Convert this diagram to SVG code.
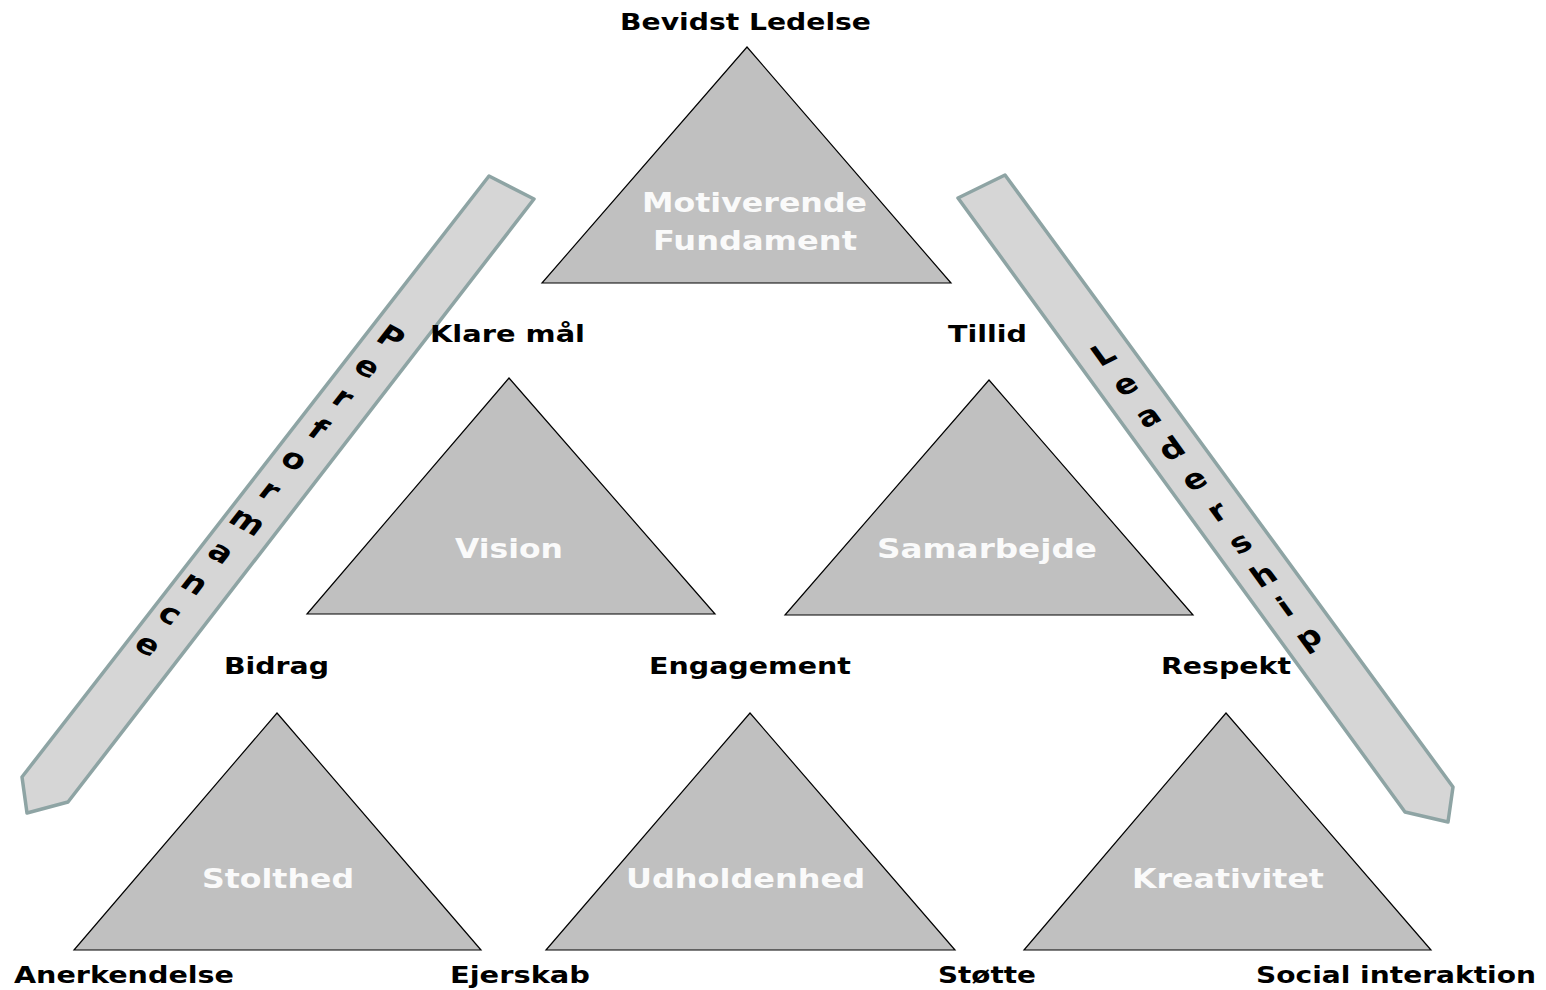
<svg xmlns="http://www.w3.org/2000/svg" width="1546" height="990" viewBox="0 0 1546 990">
<style>
.tri{fill:#c0c0c0;stroke:#000;stroke-width:1.2;stroke-linejoin:miter}
.arrow{fill:#d6d6d6;stroke:#8ea4a4;stroke-width:3.5;stroke-linejoin:round}
.lbl{font-family:"DejaVu Sans","Liberation Sans",sans-serif;font-weight:bold;font-size:23px;fill:#000}
.in{font-family:"DejaVu Sans","Liberation Sans",sans-serif;font-weight:bold;font-size:27px;fill:#fafafa}
.ch{font-family:"DejaVu Sans","Liberation Sans",sans-serif;font-weight:bold;font-size:28px;fill:#000;text-anchor:middle}
</style>
<rect width="1546" height="990" fill="#fff"/>
<g id="connectors">
<g id="arrow-performance">
<polygon class="arrow" points="489,176 534,199 68,802 27,813 22,777"/>
<text class="ch" transform="translate(391,337) scale(1.2,1) rotate(33)" y="10">P</text>
<text class="ch" transform="translate(366.6,367.9) scale(1.2,1) rotate(33)" y="8">e</text>
<text class="ch" transform="translate(342.2,398.8) scale(1.2,1) rotate(33)" y="8">r</text>
<text class="ch" transform="translate(317.8,429.7) scale(1.2,1) rotate(33)" y="9">f</text>
<text class="ch" transform="translate(293.4,460.6) scale(1.2,1) rotate(33)" y="8">o</text>
<text class="ch" transform="translate(269,491.5) scale(1.2,1) rotate(33)" y="8">r</text>
<text class="ch" transform="translate(246.6,522.4) scale(1.2,1) rotate(33)" y="8">m</text>
<text class="ch" transform="translate(220.2,553.3) scale(1.2,1) rotate(33)" y="8">a</text>
<text class="ch" transform="translate(193.8,584.2) scale(1.2,1) rotate(33)" y="8">n</text>
<text class="ch" transform="translate(169.4,615.1) scale(1.2,1) rotate(33)" y="8">c</text>
<text class="ch" transform="translate(147,646) scale(1.2,1) rotate(33)" y="8">e</text>
</g>
<g id="arrow-leadership">
<polygon class="arrow" points="958,198 1005,175 1453,787 1448,822 1405,812"/>
<text class="ch" transform="translate(1103,354) scale(1.2,1) rotate(-31)" y="10">L</text>
<text class="ch" transform="translate(1126,385.7) scale(1.2,1) rotate(-31)" y="8">e</text>
<text class="ch" transform="translate(1149,417.4) scale(1.2,1) rotate(-31)" y="8">a</text>
<text class="ch" transform="translate(1172,449.1) scale(1.2,1) rotate(-31)" y="9">d</text>
<text class="ch" transform="translate(1195,480.8) scale(1.2,1) rotate(-31)" y="8">e</text>
<text class="ch" transform="translate(1218,512.5) scale(1.2,1) rotate(-31)" y="8">r</text>
<text class="ch" transform="translate(1241,544.2) scale(1.2,1) rotate(-31)" y="8">s</text>
<text class="ch" transform="translate(1264,575.9) scale(1.2,1) rotate(-31)" y="9">h</text>
<text class="ch" transform="translate(1285,607.6) scale(1.2,1) rotate(-31)" y="9">i</text>
<text class="ch" transform="translate(1310,639.3) scale(1.2,1) rotate(-31)" y="7">p</text>
</g>
</g>
<g id="node-motiverende">
<polygon class="tri" points="747,47 951,283 542,283"/>
<text class="in" x="642" y="212" textLength="225" lengthAdjust="spacingAndGlyphs">Motiverende</text>
<text class="in" x="653" y="250" textLength="204" lengthAdjust="spacingAndGlyphs">Fundament</text>
</g>
<g id="node-vision">
<polygon class="tri" points="509,378 715,614 307,614"/>
<text class="in" x="455" y="558" textLength="108" lengthAdjust="spacingAndGlyphs">Vision</text>
</g>
<g id="node-samarbejde">
<polygon class="tri" points="989,380 1193,615 785,615"/>
<text class="in" x="877" y="558" textLength="220" lengthAdjust="spacingAndGlyphs">Samarbejde</text>
</g>
<g id="node-stolthed">
<polygon class="tri" points="277,713 481,950 74,950"/>
<text class="in" x="202" y="888" textLength="152" lengthAdjust="spacingAndGlyphs">Stolthed</text>
</g>
<g id="node-udholdenhed">
<polygon class="tri" points="750,713 955,950 546,950"/>
<text class="in" x="626" y="888" textLength="239" lengthAdjust="spacingAndGlyphs">Udholdenhed</text>
</g>
<g id="node-kreativitet">
<polygon class="tri" points="1226,713 1431,950 1024,950"/>
<text class="in" x="1132" y="888" textLength="192" lengthAdjust="spacingAndGlyphs">Kreativitet</text>
</g>
<g id="labels">
<text class="lbl" x="620" y="30" textLength="251" lengthAdjust="spacingAndGlyphs">Bevidst Ledelse</text>
<text class="lbl" x="430" y="342" textLength="155" lengthAdjust="spacingAndGlyphs">Klare mål</text>
<text class="lbl" x="948" y="342" textLength="79" lengthAdjust="spacingAndGlyphs">Tillid</text>
<text class="lbl" x="224" y="674" textLength="105" lengthAdjust="spacingAndGlyphs">Bidrag</text>
<text class="lbl" x="649" y="674" textLength="202" lengthAdjust="spacingAndGlyphs">Engagement</text>
<text class="lbl" x="1161" y="674" textLength="130" lengthAdjust="spacingAndGlyphs">Respekt</text>
<text class="lbl" x="14" y="983" textLength="220" lengthAdjust="spacingAndGlyphs">Anerkendelse</text>
<text class="lbl" x="450" y="983" textLength="140" lengthAdjust="spacingAndGlyphs">Ejerskab</text>
<text class="lbl" x="938" y="983" textLength="98" lengthAdjust="spacingAndGlyphs">Støtte</text>
<text class="lbl" x="1256" y="983" textLength="280" lengthAdjust="spacingAndGlyphs">Social interaktion</text>
</g>
</svg>
